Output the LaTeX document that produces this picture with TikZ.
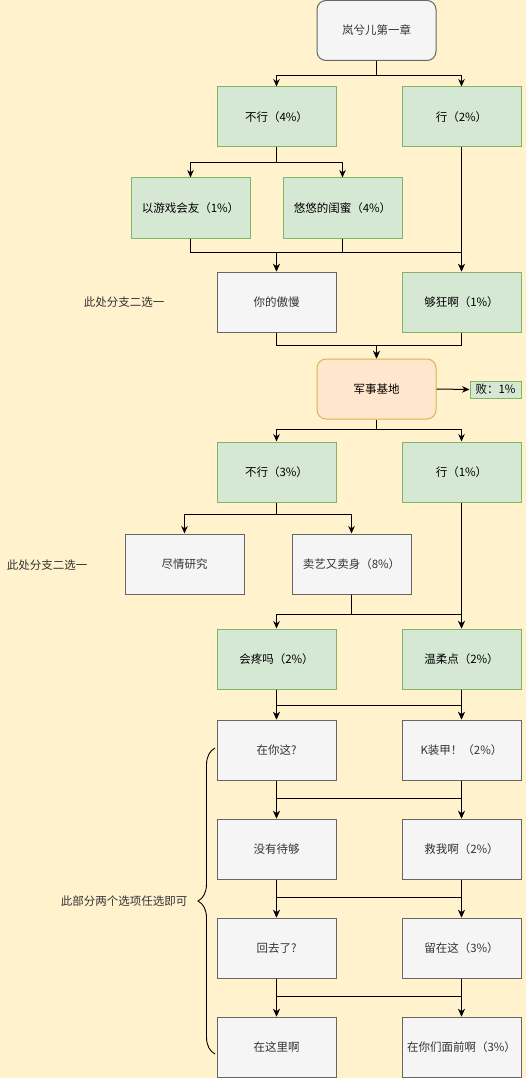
\documentclass[tikz,border=0pt]{standalone}
\usepackage{fontspec}
\setmainfont{Noto Sans CJK SC}
\usepackage{xcolor}
\usetikzlibrary{arrows.meta,decorations.pathreplacing}
\definecolor{pagebg}{HTML}{FFF2CC}
\definecolor{greenfill}{HTML}{D5E8D4}
\definecolor{greenline}{HTML}{82B366}
\definecolor{greyfill}{HTML}{F5F5F5}
\definecolor{greyline}{HTML}{666666}
\definecolor{greytext}{HTML}{333333}
\definecolor{orangefill}{HTML}{FFE6CC}
\definecolor{orangeline}{HTML}{D6B656}

\begin{document}
\begin{tikzpicture}[
  x=1pt,
  y=-1pt,
  every node/.style={font=\fontsize{11.5}{13}\selectfont, inner sep=0pt},
  box/.style={draw, line width=1pt, minimum width=119pt, minimum height=60pt},
  passbox/.style={box, fill=greenfill, draw=greenline, text=black},
  plainbox/.style={box, fill=greyfill, draw=greyline, text=greytext},
  chapter/.style={plainbox, rounded corners=9pt},
  base/.style={box, rounded corners=9pt, fill=orangefill, draw=orangeline, text=black},
  failbox/.style={fill=greenfill, draw=greenline, line width=1pt,
    minimum width=51pt, minimum height=17pt},
  note/.style={text=greytext},
  link/.style={black, line width=1pt, -{Stealth[length=7.5pt, width=6.5pt]}},
  bracket/.style={black, line width=0.9pt,
    decorate, decoration={brace, amplitude=17pt}}
]
  % ---- page --------------------------------------------------------------
  \fill[pagebg] (0,0) rectangle (526,1078);
  \useasboundingbox (0,0) rectangle (526,1078);

  % ---- first part ----------------------------------------------------------
  \node[chapter]  (start)    at (376.5,30.5) {岚兮儿第一章};
  \node[passbox]  (buxing1)  at (276.5,117)  {不行（4\%）};
  \node[passbox]  (xing1)    at (461.5,117)  {行（2\%）};
  \node[passbox]  (youxi)    at (190.5,208)  {以游戏会友（1\%）};
  \node[passbox]  (youyou)   at (342.5,208)  {悠悠的闺蜜（4\%）};
  \node[plainbox] (aoman)    at (276.5,302)  {你的傲慢};
  \node[passbox]  (goukuang) at (461.5,302)  {够狂啊（1\%）};
  \node[note]     (noteA)    at (124,302)    {此处分支二选一};

  \draw[link] (start.south) -- ++(0,15) -| (buxing1.north);
  \draw[link] (start.south) -- ++(0,15) -| (xing1.north);
  \draw[link] (buxing1.south) -- ++(0,15) -| (youxi.north);
  \draw[link] (buxing1.south) -- ++(0,15) -| (youyou.north);
  \draw[link] (youxi.south) -- ++(0,14) -| (aoman.north);
  \draw[link] (youyou.south) -- ++(0,14) -| (aoman.north);
  \draw[link] (youyou.south) -- ++(0,14) -| (goukuang.north);
  \draw[link] (xing1.south) -- (goukuang.north);

  % ---- military base -------------------------------------------------------
  \node[base]     (jidi)     at (376.5,389)  {军事基地};
  \node[failbox]  (bai)      at (495.5,389.5) {败：1\%};

  \draw[link] (aoman.south) -- ++(0,13) -| (jidi.north);
  \draw[link] (goukuang.south) -- ++(0,13) -| (jidi.north);
  \draw[link] (jidi.east) -- (bai.west);

  % ---- second part ---------------------------------------------------------
  \node[passbox]  (buxing2)  at (276.5,472)  {不行（3\%）};
  \node[passbox]  (xing2)    at (461.5,472)  {行（1\%）};
  \node[plainbox] (yanjiu)   at (184.5,564)  {尽情研究};
  \node[plainbox] (maiyi)    at (351.5,564)  {卖艺又卖身（8\%）};
  \node[note]     (noteB)    at (47,565)     {此处分支二选一};
  \node[passbox]  (hui)      at (276.5,659)  {会疼吗（2\%）};
  \node[passbox]  (wenrou)   at (461.5,659)  {温柔点（2\%）};

  \draw[link] (jidi.south) -- ++(0,10) -| (buxing2.north);
  \draw[link] (jidi.south) -- ++(0,10) -| (xing2.north);
  \draw[link] (buxing2.south) -- ++(0,12) -| (yanjiu.north);
  \draw[link] (buxing2.south) -- ++(0,12) -| (maiyi.north);
  \draw[link] (maiyi.south) -- ++(0,20) -| (hui.north);
  \draw[link] (maiyi.south) -- ++(0,20) -| (wenrou.north);
  \draw[link] (xing2.south) -- (wenrou.north);

  % ---- free choices --------------------------------------------------------
  \node[plainbox] (zaini)    at (276.5,750)  {在你这?};
  \node[plainbox] (kzhuang)  at (461.5,750)  {K装甲！（2\%）};
  \node[plainbox] (meiyou)   at (276.5,849)  {没有待够};
  \node[plainbox] (jiuwo)    at (461.5,849)  {救我啊（2\%）};
  \node[plainbox] (huiqu)    at (276.5,948)  {回去了?};
  \node[plainbox] (liuzai)   at (461.5,948)  {留在这（3\%）};
  \node[plainbox] (zaizhe)   at (276.5,1047) {在这里啊};
  \node[plainbox] (mianqian) at (461.5,1047) {在你们面前啊（3\%）};

  \draw[link] (hui.south) -- ++(0,16) -| (zaini.north);
  \draw[link] (hui.south) -- ++(0,16) -| (kzhuang.north);
  \draw[link] (wenrou.south) -- ++(0,16) -| (zaini.north);
  \draw[link] (wenrou.south) -- ++(0,16) -| (kzhuang.north);
  \draw[link] (zaini.south) -- ++(0,18) -| (meiyou.north);
  \draw[link] (zaini.south) -- ++(0,18) -| (jiuwo.north);
  \draw[link] (kzhuang.south) -- ++(0,18) -| (meiyou.north);
  \draw[link] (kzhuang.south) -- ++(0,18) -| (jiuwo.north);
  \draw[link] (meiyou.south) -- ++(0,18) -| (huiqu.north);
  \draw[link] (meiyou.south) -- ++(0,18) -| (liuzai.north);
  \draw[link] (jiuwo.south) -- ++(0,18) -| (huiqu.north);
  \draw[link] (jiuwo.south) -- ++(0,18) -| (liuzai.north);
  \draw[link] (huiqu.south) -- ++(0,18) -| (zaizhe.north);
  \draw[link] (huiqu.south) -- ++(0,18) -| (mianqian.north);
  \draw[link] (liuzai.south) -- ++(0,18) -| (zaizhe.north);
  \draw[link] (liuzai.south) -- ++(0,18) -| (mianqian.north);

  % ---- bracket and its note ------------------------------------------------
  \coordinate (bracelow) at (215,1054);
  \coordinate (bracehigh) at (215,748);
  \draw[bracket] (bracelow) -- (bracehigh);
  \node[note]     (noteC)    at (124,901)    {此部分两个选项任选即可};
\end{tikzpicture}
\end{document}
